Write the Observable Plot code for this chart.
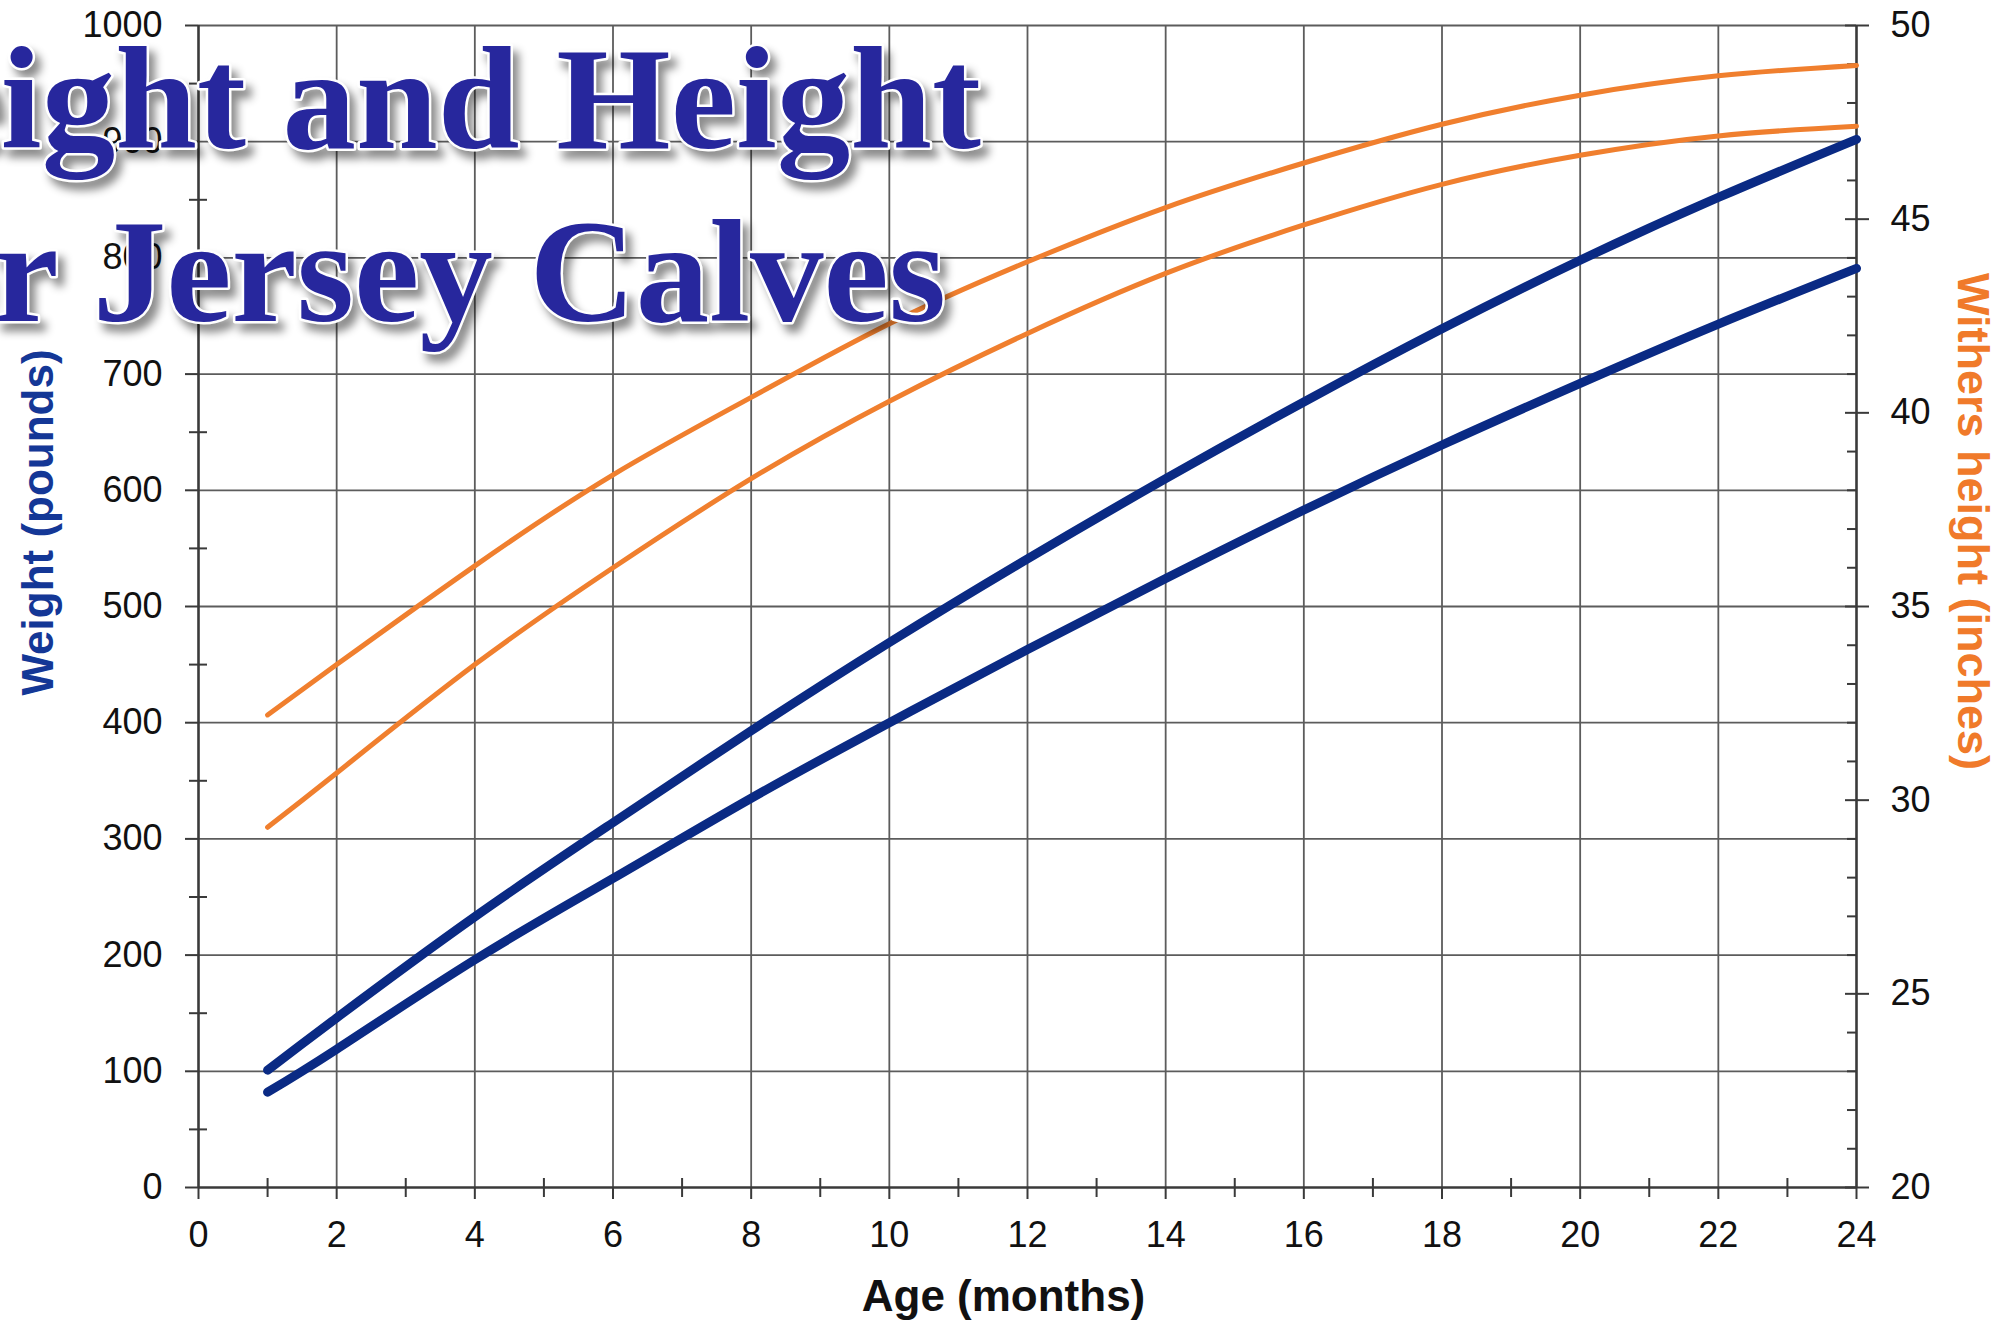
<!DOCTYPE html>
<html>
<head>
<meta charset="utf-8">
<script src="https://cdn.jsdelivr.net/npm/d3@7"></script>
<script src="https://cdn.jsdelivr.net/npm/@observablehq/plot@0.6"></script>
<style>
  html, body { margin: 0; padding: 0; background: #fff; overflow: hidden; }
  #wrap { position: relative; width: 2002px; height: 1322px; overflow: hidden; background: #fff; }
  #title { position: absolute; left: 0; top: 0; pointer-events: none; }
  #title text {
    font-family: "Liberation Serif", "Times New Roman", serif;
    font-weight: bold;
    font-size: 147px;
    fill: #27279d;
    stroke: #ffffff;
    stroke-width: 5px;
    paint-order: stroke;
    stroke-linejoin: round;
    filter: drop-shadow(6px 8px 4px rgba(0,0,0,0.45));
  }
</style>
</head>
<body>
<div id="wrap"></div>
<script>
// ---------- data ----------
const months = [1, 2, 4, 6, 8, 10, 12, 14, 16, 18, 20, 22, 24];
const weightUpper = [101, 146, 233, 314, 393, 469, 541, 610, 676, 739, 798, 852, 902];
const weightLower = [82, 119, 196, 266, 335, 400, 463, 524, 583, 639, 692, 743, 791];
const heightUpper = [32.2, 33.5, 36.05, 38.4, 40.4, 42.3, 43.9, 45.3, 46.45, 47.45, 48.2, 48.7, 48.97];
const heightLower = [29.3, 30.7, 33.5, 36.0, 38.3, 40.3, 42.05, 43.6, 44.85, 45.9, 46.65, 47.15, 47.4];

const xMajorTicks = [0, 2, 4, 6, 8, 10, 12, 14, 16, 18, 20, 22, 24];
const xMinorTicks = [1, 3, 5, 7, 9, 11, 13, 15, 17, 19, 21, 23];
const weightTicks = [0, 100, 200, 300, 400, 500, 600, 700, 800, 900, 1000];
const weightMinorTicks = [50, 150, 250, 350, 450, 550, 650, 750, 850, 950];
const heightTicks = [20, 25, 30, 35, 40, 45, 50];
const heightMinorTicks = [21, 22, 23, 24, 26, 27, 28, 29, 31, 32, 33, 34, 36, 37, 38, 39, 41, 42, 43, 44, 46, 47, 48, 49];

const titleLines = ["Weight and Height", "for Jersey Calves"];
const xLabel = "Age (months)";
const yLeftLabel = "Weight (pounds)";
const yRightLabel = "Withers height (inches)";

// ---------- build ----------
const blue = "#0a2a84";
const orange = "#f07f2e";
const gridColor = "#5c5c5c";
const axisColor = "#3a3a3a";

const wDomain = [weightTicks[0], weightTicks[weightTicks.length - 1]];
const hDomain = [heightTicks[0], heightTicks[heightTicks.length - 1]];
const h2w = d3.scaleLinear().domain(hDomain).range(wDomain);
const w2h = h2w.copy().domain(wDomain).range(hDomain);

const rows = [];
months.forEach((m, i) => {
  rows.push({series: "wU", kind: "weight", month: m, value: weightUpper[i]});
  rows.push({series: "wL", kind: "weight", month: m, value: weightLower[i]});
  rows.push({series: "hU", kind: "height", month: m, value: heightUpper[i]});
  rows.push({series: "hL", kind: "height", month: m, value: heightLower[i]});
});
const heightRows = rows.filter(d => d.kind === "height");
const weightRows = rows.filter(d => d.kind === "weight");

const chart = Plot.plot({
  width: 2002,
  height: 1322,
  marginLeft: 198,
  marginRight: 146,
  marginTop: 25,
  marginBottom: 135,
  style: {
    fontFamily: "'Liberation Sans', Arial, Helvetica, sans-serif",
    fontSize: "36px",
    color: "#111",
    background: "#fff",
    overflow: "visible"
  },
  x: {domain: [xMajorTicks[0], xMajorTicks[xMajorTicks.length - 1]], axis: null},
  y: {domain: wDomain, axis: null},
  marks: [
    Plot.gridX(xMajorTicks.slice(1, -1), {stroke: gridColor, strokeOpacity: 1, strokeWidth: 1.8}),
    Plot.gridY(weightTicks.slice(1), {stroke: gridColor, strokeOpacity: 1, strokeWidth: 1.8}),
    // frame axes lines
    Plot.ruleX([xMajorTicks[0]], {stroke: axisColor, strokeWidth: 2.6}),
    Plot.ruleX([xMajorTicks[xMajorTicks.length - 1]], {stroke: axisColor, strokeWidth: 2.6}),
    Plot.ruleY([weightTicks[0]], {stroke: axisColor, strokeWidth: 2.6}),
    // bottom axis
    Plot.axisX(xMajorTicks, {tickSize: 12, tickPadding: 22, label: null, tickFormat: d3.format("d"),
      stroke: axisColor, strokeWidth: 2, fontSize: 36}),
    Plot.axisX(xMinorTicks, {tickSize: 19, dy: -9, label: null, tickFormat: () => "", stroke: axisColor, strokeWidth: 2}),
    // left axis
    Plot.axisY(weightTicks, {tickSize: 13, tickPadding: 23, label: null, tickFormat: d3.format("d"),
      stroke: axisColor, strokeWidth: 2, fontSize: 36}),
    Plot.axisY(weightMinorTicks, {tickSize: 18, dx: 9, label: null, tickFormat: () => "", stroke: axisColor, strokeWidth: 2}),
    // right axis (withers height in inches, mapped onto the weight scale)
    Plot.axisY(heightTicks.map(h2w), {anchor: "right", tickSize: 24, dx: -12, tickPadding: 22, label: null,
      tickFormat: w => String(Math.round(w2h(w))), stroke: axisColor, strokeWidth: 2, fontSize: 36}),
    Plot.axisY(heightMinorTicks.map(h2w), {anchor: "right", tickSize: 10, dx: -10, label: null,
      tickFormat: () => "", stroke: axisColor, strokeWidth: 2}),
    // lines
    Plot.line(heightRows, {x: "month", y: d => h2w(d.value), z: "series", stroke: orange, strokeWidth: 5,
      curve: "natural", strokeLinecap: "round", strokeLinejoin: "round"}),
    Plot.line(weightRows, {x: "month", y: "value", z: "series", stroke: blue, strokeWidth: 9,
      curve: "natural", strokeLinecap: "round", strokeLinejoin: "round"}),
    // axis titles
    Plot.text([xLabel], {frameAnchor: "bottom", textAnchor: "middle", dx: -24, dy: 123, fontSize: 44, fontWeight: "bold", fill: "#111"}),
    Plot.text([yLeftLabel], {frameAnchor: "left", textAnchor: "middle", rotate: -90, dx: -160, dy: -84, fontSize: 44, fontWeight: "bold", fill: "#143796"}),
    Plot.text([yRightLabel], {frameAnchor: "right", textAnchor: "middle", rotate: 90, dx: 116, dy: -85, fontSize: 45, fontWeight: "bold", fill: "#f07a2a"})
  ]
});

const wrap = document.getElementById("wrap");
wrap.appendChild(chart);

// overlaid title (cropped at the left edge, as in the reference)
const ns = "http://www.w3.org/2000/svg";
const tsvg = document.createElementNS(ns, "svg");
tsvg.setAttribute("id", "title");
tsvg.setAttribute("width", 2002);
tsvg.setAttribute("height", 1322);
const titleAnchors = [[981, 148], [946, 321]];
titleLines.forEach((line, i) => {
  const t = document.createElementNS(ns, "text");
  t.setAttribute("x", titleAnchors[i][0]);
  t.setAttribute("y", titleAnchors[i][1]);
  t.setAttribute("text-anchor", "end");
  t.textContent = line;
  tsvg.appendChild(t);
});
wrap.appendChild(tsvg);
</script>
</body>
</html>
